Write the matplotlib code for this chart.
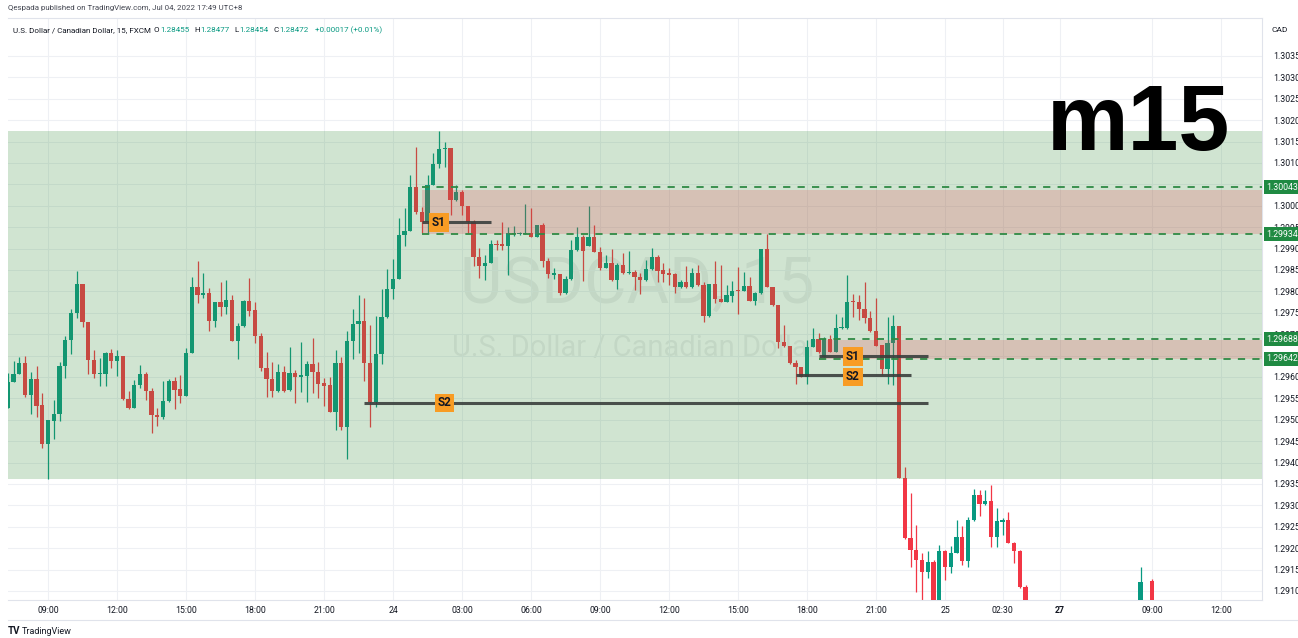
import numpy as np
import pandas as pd
import matplotlib
matplotlib.use("Agg")
import matplotlib.pyplot as plt
from matplotlib.patches import Rectangle

plt.rcParams['font.family'] = ['Roboto', 'DejaVu Sans']

# USDCAD 15m bars (UTC+8), first bar Jun 23 07:15
bar_start = "2022-06-23 07:15"
opens = [
    1.29528, 1.29589, 1.29607, 1.29632, 1.29558, 1.29596, 1.29534, 1.29444, 1.29498, 1.29514,
    1.29626, 1.29686, 1.29749, 1.29817, 1.29729, 1.29640, 1.29606, 1.29607, 1.29657, 1.29638,
    1.29649, 1.29549, 1.29528, 1.29581, 1.29607, 1.29568, 1.29511, 1.29507, 1.29545, 1.29591,
    1.29571, 1.29556, 1.29656, 1.29810, 1.29792, 1.29796, 1.29731, 1.29775, 1.29764, 1.29780,
    1.29685, 1.29719, 1.29778, 1.29756, 1.29696, 1.29620, 1.29595, 1.29567, 1.29611, 1.29569,
    1.29609, 1.29601, 1.29603, 1.29630, 1.29612, 1.29586, 1.29581, 1.29519, 1.29633, 1.29483,
    1.29683, 1.29723, 1.29731, 1.29633, 1.29541, 1.29654, 1.29739, 1.29806, 1.29829, 1.29932,
    1.29941, 1.30045, 1.29986, 1.29962, 1.30049, 1.30097, 1.30132, 1.30136, 1.30014, 1.30031,
    1.30000, 1.29962, 1.29881, 1.29860, 1.29867, 1.29910, 1.29910, 1.29907, 1.29933, 1.29934,
    1.29933, 1.29937, 1.29928, 1.29955, 1.29871, 1.29838, 1.29840, 1.29796, 1.29829, 1.29897,
    1.29927, 1.29907, 1.29927, 1.29893, 1.29855, 1.29867, 1.29827, 1.29862, 1.29842, 1.29845,
    1.29834, 1.29827, 1.29852, 1.29881, 1.29850, 1.29842, 1.29840, 1.29810, 1.29823, 1.29810,
    1.29844, 1.29815, 1.29743, 1.29817, 1.29782, 1.29776, 1.29789, 1.29803, 1.29802, 1.29813,
    1.29778, 1.29796, 1.29898, 1.29811, 1.29768, 1.29681, 1.29672, 1.29632, 1.29623, 1.29601,
    1.29671, 1.29689, 1.29647, 1.29689, 1.29659, 1.29714, 1.29715, 1.29776, 1.29774, 1.29758,
    1.29738, 1.29708, 1.29675, 1.29618, 1.29679, 1.29720, 1.29365, 1.29223, 1.29196, 1.29173,
    1.29144, 1.29167, 1.29062, 1.29194, 1.29155, 1.29189, 1.29225, 1.29171, 1.29266, 1.29324,
    1.29303, 1.29310, 1.29227, 1.29262, 1.29266, 1.29213, 1.29194, 1.29109,
]
highs = [
    1.29609, 1.29637, 1.29647, 1.29648, 1.29612, 1.29625, 1.29563, 1.29500, 1.29546, 1.29636,
    1.29696, 1.29758, 1.29848, 1.29817, 1.29729, 1.29663, 1.29644, 1.29659, 1.29665, 1.29663,
    1.29649, 1.29568, 1.29592, 1.29628, 1.29611, 1.29574, 1.29527, 1.29591, 1.29595, 1.29600,
    1.29605, 1.29667, 1.29834, 1.29872, 1.29842, 1.29809, 1.29775, 1.29823, 1.29827, 1.29792,
    1.29726, 1.29780, 1.29832, 1.29776, 1.29702, 1.29659, 1.29634, 1.29630, 1.29625, 1.29671,
    1.29616, 1.29681, 1.29637, 1.29692, 1.29634, 1.29597, 1.29599, 1.29662, 1.29646, 1.29708,
    1.29758, 1.29792, 1.29784, 1.29721, 1.29743, 1.29806, 1.29852, 1.29876, 1.29971, 1.29994,
    1.30072, 1.30138, 1.29998, 1.30072, 1.30123, 1.30175, 1.30150, 1.30136, 1.30049, 1.30037,
    1.30000, 1.29967, 1.29901, 1.29885, 1.29920, 1.29920, 1.29963, 1.29950, 1.29953, 1.29938,
    1.30004, 1.29994, 1.29955, 1.29960, 1.29877, 1.29855, 1.29840, 1.29836, 1.29920, 1.29950,
    1.29932, 1.29999, 1.29955, 1.29904, 1.29885, 1.29898, 1.29867, 1.29890, 1.29895, 1.29850,
    1.29842, 1.29873, 1.29901, 1.29885, 1.29867, 1.29854, 1.29842, 1.29827, 1.29859, 1.29854,
    1.29862, 1.29823, 1.29817, 1.29872, 1.29862, 1.29815, 1.29825, 1.29856, 1.29846, 1.29834,
    1.29799, 1.29898, 1.29934, 1.29811, 1.29768, 1.29721, 1.29672, 1.29640, 1.29623, 1.29686,
    1.29715, 1.29702, 1.29694, 1.29698, 1.29747, 1.29741, 1.29838, 1.29794, 1.29792, 1.29823,
    1.29753, 1.29784, 1.29675, 1.29739, 1.29745, 1.29720, 1.29389, 1.29328, 1.29254, 1.29188,
    1.29193, 1.29172, 1.29207, 1.29196, 1.29204, 1.29266, 1.29252, 1.29272, 1.29338, 1.29336,
    1.29336, 1.29348, 1.29293, 1.29271, 1.29284, 1.29214, 1.29196, 1.29114,
]
lows = [
    1.29527, 1.29588, 1.29606, 1.29553, 1.29514, 1.29507, 1.29435, 1.29362, 1.29455, 1.29497,
    1.29597, 1.29653, 1.29738, 1.29716, 1.29607, 1.29597, 1.29580, 1.29580, 1.29620, 1.29602,
    1.29546, 1.29525, 1.29527, 1.29575, 1.29547, 1.29468, 1.29486, 1.29502, 1.29542, 1.29525,
    1.29540, 1.29556, 1.29655, 1.29772, 1.29785, 1.29708, 1.29716, 1.29743, 1.29747, 1.29685,
    1.29641, 1.29717, 1.29743, 1.29679, 1.29615, 1.29553, 1.29554, 1.29566, 1.29566, 1.29568,
    1.29539, 1.29566, 1.29541, 1.29562, 1.29550, 1.29533, 1.29519, 1.29476, 1.29476, 1.29408,
    1.29642, 1.29655, 1.29591, 1.29483, 1.29530, 1.29630, 1.29738, 1.29782, 1.29829, 1.29907,
    1.29941, 1.29981, 1.29936, 1.29936, 1.30049, 1.30089, 1.30091, 1.29979, 1.30010, 1.29979,
    1.29936, 1.29859, 1.29831, 1.29827, 1.29866, 1.29897, 1.29897, 1.29838, 1.29929, 1.29932,
    1.29933, 1.29927, 1.29927, 1.29857, 1.29831, 1.29829, 1.29792, 1.29794, 1.29827, 1.29894,
    1.29824, 1.29905, 1.29892, 1.29850, 1.29854, 1.29824, 1.29806, 1.29841, 1.29841, 1.29803,
    1.29793, 1.29824, 1.29850, 1.29823, 1.29823, 1.29815, 1.29797, 1.29808, 1.29808, 1.29808,
    1.29813, 1.29729, 1.29740, 1.29772, 1.29774, 1.29775, 1.29776, 1.29747, 1.29801, 1.29777,
    1.29768, 1.29794, 1.29810, 1.29766, 1.29667, 1.29670, 1.29630, 1.29583, 1.29600, 1.29583,
    1.29670, 1.29656, 1.29646, 1.29658, 1.29658, 1.29711, 1.29713, 1.29741, 1.29733, 1.29725,
    1.29705, 1.29672, 1.29605, 1.29583, 1.29581, 1.29364, 1.29222, 1.29156, 1.29098, 1.29067,
    1.29130, 1.29050, 1.29055, 1.29126, 1.29141, 1.29188, 1.29161, 1.29155, 1.29263, 1.29276,
    1.29302, 1.29202, 1.29202, 1.29231, 1.29212, 1.29165, 1.29107, 1.29050,
]
closes = [
    1.29589, 1.29607, 1.29632, 1.29558, 1.29596, 1.29533, 1.29444, 1.29500, 1.29514, 1.29626,
    1.29686, 1.29749, 1.29817, 1.29729, 1.29640, 1.29607, 1.29608, 1.29657, 1.29638, 1.29649,
    1.29549, 1.29528, 1.29581, 1.29607, 1.29568, 1.29510, 1.29507, 1.29545, 1.29591, 1.29570,
    1.29556, 1.29656, 1.29810, 1.29792, 1.29796, 1.29731, 1.29775, 1.29764, 1.29780, 1.29685,
    1.29719, 1.29778, 1.29755, 1.29696, 1.29620, 1.29595, 1.29567, 1.29611, 1.29568, 1.29609,
    1.29601, 1.29605, 1.29630, 1.29612, 1.29584, 1.29580, 1.29519, 1.29633, 1.29483, 1.29683,
    1.29723, 1.29731, 1.29633, 1.29541, 1.29654, 1.29740, 1.29806, 1.29829, 1.29932, 1.29941,
    1.30044, 1.29986, 1.29963, 1.30049, 1.30097, 1.30133, 1.30136, 1.30014, 1.30031, 1.30000,
    1.29962, 1.29881, 1.29860, 1.29867, 1.29910, 1.29908, 1.29907, 1.29937, 1.29937, 1.29936,
    1.29937, 1.29928, 1.29955, 1.29871, 1.29841, 1.29842, 1.29796, 1.29829, 1.29897, 1.29927,
    1.29894, 1.29927, 1.29893, 1.29855, 1.29867, 1.29827, 1.29862, 1.29842, 1.29845, 1.29834,
    1.29827, 1.29852, 1.29881, 1.29848, 1.29841, 1.29838, 1.29810, 1.29823, 1.29810, 1.29844,
    1.29815, 1.29743, 1.29817, 1.29782, 1.29776, 1.29791, 1.29802, 1.29801, 1.29813, 1.29778,
    1.29796, 1.29898, 1.29811, 1.29768, 1.29681, 1.29672, 1.29632, 1.29623, 1.29601, 1.29671,
    1.29689, 1.29658, 1.29689, 1.29659, 1.29715, 1.29717, 1.29776, 1.29774, 1.29758, 1.29738,
    1.29708, 1.29673, 1.29618, 1.29679, 1.29720, 1.29365, 1.29223, 1.29196, 1.29173, 1.29144,
    1.29167, 1.29060, 1.29194, 1.29155, 1.29189, 1.29225, 1.29171, 1.29266, 1.29324, 1.29303,
    1.29310, 1.29227, 1.29264, 1.29266, 1.29213, 1.29194, 1.29109, 1.29060,
]

# Monday bars that poke in at the bottom edge
mon_times = ["2022-06-27 08:30", "2022-06-27 09:00"]
mon_open = [1.29050, 1.29123]
mon_high = [1.29155, 1.29127]
mon_low = [1.29040, 1.29040]
mon_close = [1.29120, 1.29050]

# drawings
zone = (1.29362, 1.30175)
boxes = [("2022-06-24 01:15", 1.29934, 1.30036), ("2022-06-24 18:30", 1.29642, 1.29686)]
dashed = [("2022-06-24 01:15", 1.30043), ("2022-06-24 01:15", 1.29934),
          ("2022-06-24 18:30", 1.29688), ("2022-06-24 18:30", 1.29642)]
sr_lines = [("2022-06-24 01:15", "2022-06-24 04:15", 1.29961),
            ("2022-06-23 22:45", "2022-06-24 23:15", 1.29540),
            ("2022-06-24 18:30", "2022-06-24 23:15", 1.29648),
            ("2022-06-24 17:30", "2022-06-24 22:30", 1.29605)]
sr_labels = [("2022-06-24 02:00", 1.29961, "S1"), ("2022-06-24 02:15", 1.29540, "S2"),
             ("2022-06-24 20:00", 1.29648, "S1"), ("2022-06-24 20:00", 1.29600, "S2")]

tick_times = ["2022-06-23 09:00", "2022-06-23 12:00", "2022-06-23 15:00", "2022-06-23 18:00",
              "2022-06-23 21:00", "2022-06-24 00:00", "2022-06-24 03:00", "2022-06-24 06:00",
              "2022-06-24 09:00", "2022-06-24 12:00", "2022-06-24 15:00", "2022-06-24 18:00",
              "2022-06-24 21:00", "2022-06-25 00:00", "2022-06-25 02:30", "2022-06-27 05:00",
              "2022-06-27 09:00", "2022-06-27 12:00"]
tick_labels = ["09:00", "12:00", "15:00", "18:00", "21:00", "24", "03:00", "06:00", "09:00",
               "12:00", "15:00", "18:00", "21:00", "25", "02:30", "27", "09:00", "12:00"]

GREEN = '#089981'
RED = '#f23645'
t0 = pd.Timestamp("2022-06-23 09:00")


def bar_pos(t):
    t = pd.Timestamp(t)
    n = (t - t0) / pd.Timedelta(minutes=15)
    if t >= pd.Timestamp("2022-06-27 05:00"):
        n -= 192  # weekend gap
    return n


def draw_candles(ax, xs, o, h, l, c):
    o, h, l, c = map(np.asarray, (o, h, l, c))
    col = np.where(c >= o, GREEN, RED)
    ax.vlines(xs, l, h, colors=col, lw=0.9, zorder=2)
    bottom = np.minimum(o, c)
    height = np.maximum(np.abs(c - o), 0.00003)
    ax.bar(xs, height, bottom=bottom, width=0.74, color=col, lw=0, zorder=3)


W, H = 1298, 638
fig = plt.figure(figsize=(W / 100, H / 100), dpi=100)
fig.patch.set_facecolor('white')
ax = fig.add_axes([8 / W, 1 - 600 / H, 1254 / W, 582 / H])


def fx(x):
    return x / W


def fy(y):
    return 1 - y / H


times = pd.date_range(bar_start, periods=len(opens), freq='15min')
xs = np.array([bar_pos(t) for t in times])
draw_candles(ax, xs, opens, highs, lows, closes)
draw_candles(ax, [bar_pos(t) for t in mon_times], mon_open, mon_high, mon_low, mon_close)

x_left, x_right = -6.96, 211.13
ax.set_xlim(x_left, x_right)
ax.set_ylim(1.290789, 1.304387)

# watermark
ax.text(0.5016, 0.541, "USDCAD, 15", transform=ax.transAxes, ha='center', va='center',
        fontsize=47, color='#787b86', alpha=0.13, zorder=0.5)
ax.text(0.5, 0.433, "U.S. Dollar / Canadian Dollar", transform=ax.transAxes, ha='center',
        va='center', fontsize=21, color='#787b86', alpha=0.13, zorder=0.5)

# zones
ax.axhspan(zone[0], zone[1], color=(56 / 255, 142 / 255, 60 / 255), alpha=0.23, lw=0, zorder=4)
for start, lo, hi in boxes:
    x0 = bar_pos(start)
    ax.add_patch(Rectangle((x0, lo), x_right - x0, hi - lo, facecolor=RED, alpha=0.2,
                           lw=0, zorder=5))
for start, lvl in dashed:
    ax.hlines(lvl, bar_pos(start), x_right, colors='#2f8a45', lw=1.3,
              linestyles=(0, (4, 4)), zorder=6)
for a, b, lvl in sr_lines:
    ax.hlines(lvl, bar_pos(a), bar_pos(b), colors='#3a3f3d', lw=2.2, alpha=0.9, zorder=7)
for t, lvl, txt in sr_labels:
    ax.text(bar_pos(t), lvl, txt, ha='center', va='center', fontsize=8.5, fontweight='bold',
            color='#131722', zorder=8,
            bbox=dict(boxstyle='square,pad=0.22', fc='#f89c24', ec='none'))

# axes styling
ax.set_xticks([bar_pos(t) for t in tick_times])
ax.set_xticklabels(tick_labels)
for lab in ax.get_xticklabels():
    if lab.get_text() == "27":
        lab.set_fontweight('bold')
ax.yaxis.tick_right()
yt = np.arange(1.29100, 1.303501, 0.0005)
ax.set_yticks(yt)
ax.set_yticklabels([f"{v:.5f}" for v in yt])
ax.tick_params(axis='x', length=0, pad=4, labelsize=6.3, labelcolor='#131722')
ax.tick_params(axis='y', length=0, pad=8, labelsize=6.3, labelcolor='#131722')
ax.grid(True, color='#eef0f4', lw=0.8, zorder=0)
ax.set_axisbelow(True)
for s in ax.spines.values():
    s.set_color('#e0e3eb')
    s.set_linewidth(0.8)
ax.spines['left'].set_visible(False)

# price-axis markers for the dashed levels
for _, lvl in dashed:
    ax.text(1.0035, lvl, f"{lvl:.5f}", transform=ax.get_yaxis_transform(), ha='left',
            va='center', fontsize=6.3, color='white', clip_on=False, zorder=10,
            bbox=dict(boxstyle='square,pad=0.3', fc='#1f8a42', ec='none'))

# header and footer text
fig.text(fx(8), fy(8), "Qespada published on TradingView.com, Jul 04, 2022 17:49 UTC+8",
         fontsize=5.7, color='#434651', va='center')

renderer = fig.canvas.get_renderer()
legend_parts = [("U.S. Dollar / Canadian Dollar, 15, FXCM", '#131722', 3),
                ("O", '#131722', 0.5), ("1.28455", GREEN, 5),
                ("H", '#131722', 0.5), ("1.28477", GREEN, 5),
                ("L", '#131722', 0.5), ("1.28454", GREEN, 5),
                ("C", '#131722', 0.5), ("1.28472", GREEN, 6),
                ("+0.00017 (+0.01%)", GREEN, 0)]
xpos = 13
for txt, c, gap in legend_parts:
    t = fig.text(fx(xpos), fy(30), txt, fontsize=5.8, color=c, va='center')
    xpos += t.get_window_extent(renderer).width + gap

fig.text(fx(1272), fy(30), "CAD", fontsize=6.0, color='#131722', va='center')
fig.text(fx(1230), fy(150), "m15", fontsize=66, fontweight='bold', color='black',
         ha='right', va='baseline', family=['Liberation Sans', 'DejaVu Sans'])
fig.text(fx(8), fy(631), "TV", fontsize=7, fontweight='bold', color='#131722', va='center')
fig.text(fx(22), fy(631), "TradingView", fontsize=6.5, color='#131722', va='center')
fig.add_artist(plt.Line2D([fx(8), fx(1298)], [fy(620), fy(620)], color='#e0e3eb', lw=0.8))

fig.savefig("out.png", dpi=100)
